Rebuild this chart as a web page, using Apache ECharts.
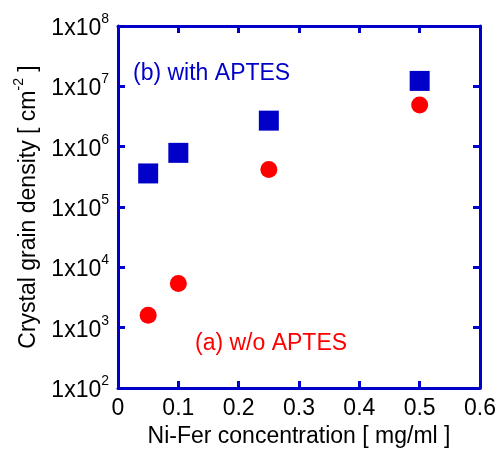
<!DOCTYPE html>
<html>
<head>
<meta charset="utf-8">
<script src="https://cdn.jsdelivr.net/npm/echarts@6/dist/echarts.min.js"></script>
<style>
  html, body { margin: 0; padding: 0; background: #fff; }
  #chart { width: 503px; height: 450px; }
</style>
</head>
<body>
<div id="chart"></div>
<script>
  // concentration [mg/ml]
  var withX = [0.05, 0.1, 0.25, 0.5];
  var withY = [3.6e5, 7.9e5, 2.7e6, 1.23e7];   // (b) with APTES
  var woX = [0.05, 0.1, 0.25, 0.5];
  var woY = [1.6e3, 5.4e3, 4.2e5, 4.9e6];      // (a) w/o APTES

  var blue = "#0000c8";
  var red = "#ff0000";
  var font = "Liberation Sans, Arial, Helvetica, sans-serif";

  function pairs(xs, ys) {
    return xs.map(function(x, i) { return [x, ys[i]]; });
  }

  function rich() {
    return {
      b: { fontSize: 23, fontFamily: font, color: "#000", verticalAlign: "bottom", lineHeight: 28 },
      s: { fontSize: 14, fontFamily: font, color: "#000", verticalAlign: "top", lineHeight: 28 }
    };
  }
  // axis lines must stay on the frame edges (no onZero snapping)
  function frame() {
    return { show: true, onZero: false, lineStyle: { color: blue, width: 3 } };
  }
  function ticks() {
    return { show: true, inside: true, length: 7, lineStyle: { color: blue, width: 3 } };
  }

  var chart = echarts.init(document.getElementById("chart"));
  chart.setOption({
    animation: false,
    grid: { left: 118, right: 23, top: 26, bottom: 62, containLabel: false, outerBoundsMode: "none" },
    xAxis: [
      {
        type: "value",
        min: 0, max: 0.6, interval: 0.1,
        position: "bottom",
        axisLine: frame(),
        axisTick: ticks(),
        splitLine: { show: false },
        axisLabel: {
          margin: 9, fontSize: 23, fontFamily: font, color: "#000",
          formatter: function(v) { return v === 0 ? "0" : v.toFixed(1); }
        },
        name: "Ni-Fer concentration [ mg/ml ]",
        nameLocation: "middle",
        nameGap: 36,
        nameTextStyle: { fontSize: 23, fontFamily: font, color: "#000" }
      },
      {
        type: "value",
        min: 0, max: 0.6, interval: 0.1,
        position: "top",
        axisLine: frame(),
        axisTick: ticks(),
        splitLine: { show: false },
        axisLabel: { show: false }
      }
    ],
    yAxis: [
      {
        type: "log",
        logBase: 10,
        min: 1e2, max: 1e8,
        position: "left",
        axisLine: frame(),
        axisTick: ticks(),
        minorTick: { show: false },
        splitLine: { show: false },
        axisLabel: {
          margin: 9,
          formatter: function(v) {
            var e = Math.round(Math.log10(v));
            return "{b|1x10}{s|" + e + "}";
          },
          rich: rich()
        },
        name: "{b|Crystal grain density [ cm}{s|-2}{b| ]}",
        nameLocation: "middle",
        nameRotate: 90,
        nameGap: 70,
        nameTextStyle: { rich: rich() }
      },
      {
        type: "log",
        logBase: 10,
        min: 1e2, max: 1e8,
        position: "right",
        axisLine: frame(),
        axisTick: ticks(),
        splitLine: { show: false },
        axisLabel: { show: false }
      }
    ],
    graphic: [
      {
        type: "text", left: 133, top: 62,
        style: { text: "(b) with APTES", fill: blue, fontSize: 23, fontFamily: font }
      },
      {
        type: "text", left: 195, top: 332,
        style: { text: "(a) w/o APTES", fill: red, fontSize: 23, fontFamily: font }
      }
    ],
    series: [
      {
        name: "with APTES",
        type: "scatter",
        symbol: "rect",
        symbolSize: 20,
        itemStyle: { color: blue, opacity: 1 },
        data: pairs(withX, withY)
      },
      {
        name: "w/o APTES",
        type: "scatter",
        symbol: "circle",
        symbolSize: 17,
        itemStyle: { color: red, opacity: 1 },
        data: pairs(woX, woY)
      }
    ]
  });
</script>
</body>
</html>
